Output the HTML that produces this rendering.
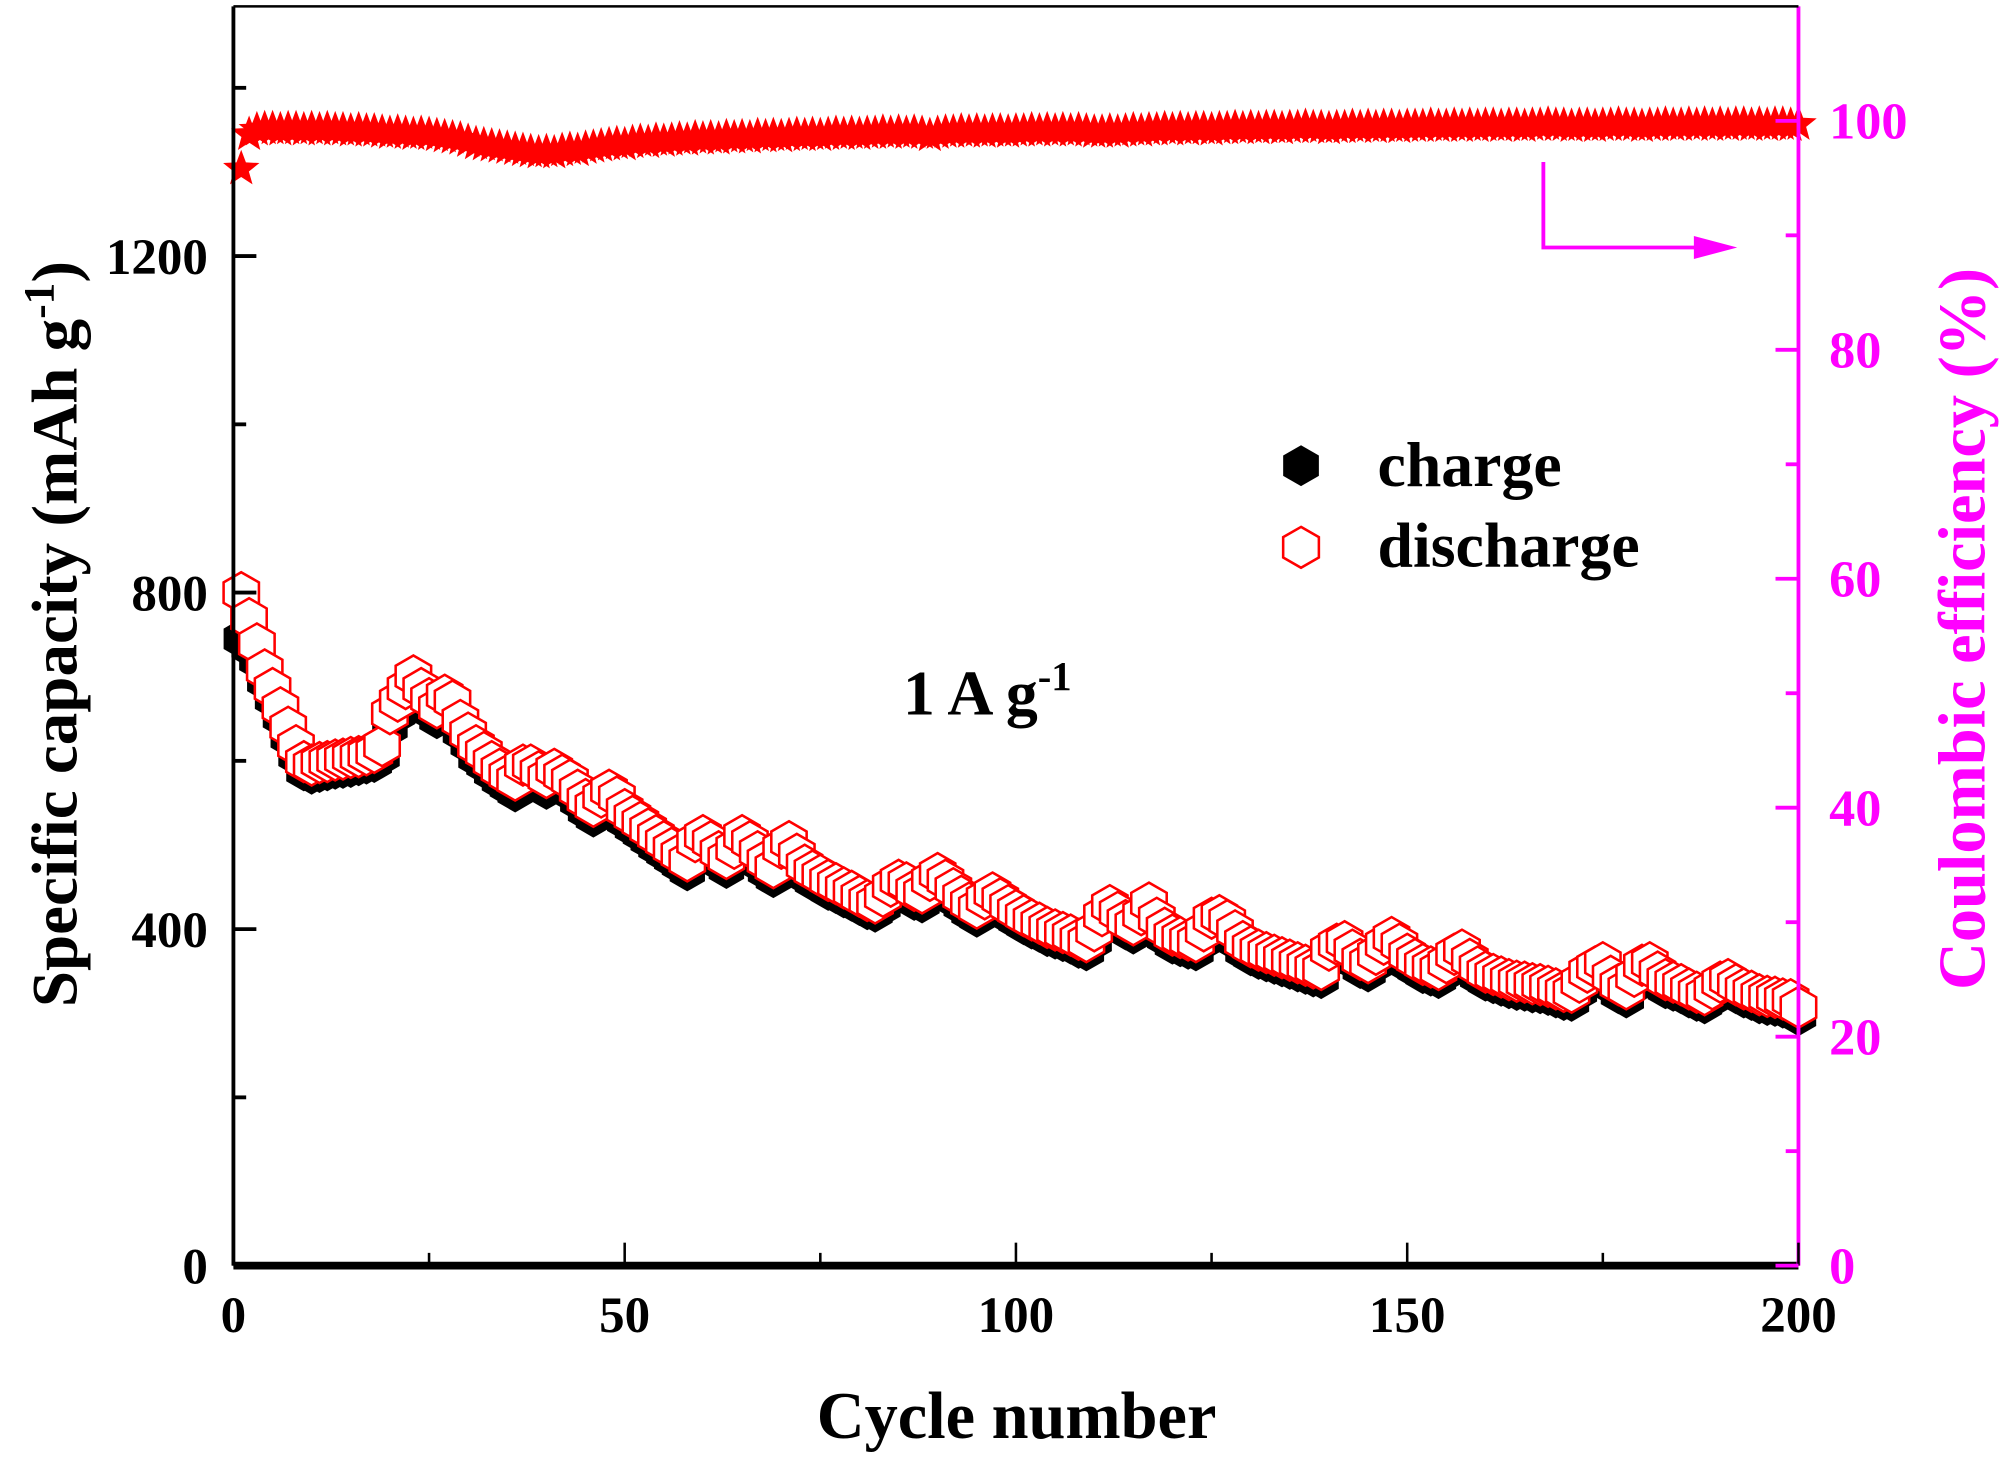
<!DOCTYPE html>
<html><head><meta charset="utf-8"><style>
html,body{margin:0;padding:0;background:#fff;}
svg{display:block;}
text{font-family:"Liberation Serif",serif;font-weight:bold;}
</style></head><body>
<svg id="chart" width="2000" height="1457" viewBox="0 0 1568 1142" preserveAspectRatio="none" xmlns="http://www.w3.org/2000/svg">
<g id="marks"></g>
<g id="axes"></g>
<g>
  <polygon points="1020,349 1034,357 1034,373 1020,381 1006,373 1006,357" fill="#000"/>
  <text x="1080" y="381" font-size="50">charge</text>
  <polygon points="1020,413 1034,421 1034,437 1020,445 1006,437 1006,421" fill="#fff" stroke="#f00" stroke-width="2"/>
  <text x="1080" y="444" font-size="50">discharge</text>
</g>
<text x="708" y="560" font-size="50">1 A g<tspan dy="-19" font-size="32">-1</tspan></text>
<g>
  <polyline points="1210,127 1210,194 1335,194" fill="none" stroke="#f0f" stroke-width="3"/>
  <polygon points="1362,194 1328,185 1328,203" fill="#f0f"/>
</g>
<text x="797" y="1127" font-size="52" text-anchor="middle">Cycle number</text>
<text transform="translate(60,497) rotate(-90)" font-size="51" text-anchor="middle">Specific capacity (mAh g<tspan dy="-18" font-size="34">-1</tspan><tspan dy="18">)</tspan></text>
<text transform="translate(1556,493) rotate(-90)" font-size="52" text-anchor="middle" fill="#f0f">Coulombic efficiency (%)</text>
</svg>
<script>
const cycles = Array.from({length:200},(_,i)=>i+1);
const discharge = [800,769,739,708,686,663,640,618,599,595,598,599,601,602,604,605,607,610,618,656,
671,686,701,686,674,663,678,671,648,633,618,610,599,590,583,577,595,595,587,580,
590,583,577,565,554,546,557,565,557,542,534,527,519,511,504,496,489,481,504,511,
504,492,484,496,511,504,492,481,473,496,504,489,476,469,464,458,454,449,445,439,
434,431,439,451,458,455,446,443,458,466,458,448,439,431,425,436,443,436,428,422,
416,411,407,402,399,396,393,388,385,398,416,428,420,410,405,417,431,413,401,393,
390,387,385,398,413,416,410,398,385,379,375,372,369,366,363,360,357,354,352,375,
382,385,375,364,360,370,382,390,382,370,364,358,355,352,360,370,375,364,355,349,
346,343,340,338,337,335,334,332,329,326,325,337,349,355,360,344,334,329,344,357,
360,349,340,337,334,329,325,322,329,337,340,334,329,326,322,320,319,317,316,307];
const charge = [745,735,720,695,674,652,628,606,588,584,586,588,590,591,592,594,596,598,606,640,
656,670,684,672,660,650,662,656,634,620,604,596,586,577,570,563,580,580,573,566,
576,570,563,552,541,533,543,551,543,529,521,514,506,498,491,484,477,469,490,497,
490,480,472,483,497,490,479,469,461,483,490,476,464,457,452,446,442,437,433,428,
423,420,427,439,446,443,434,431,446,453,446,436,428,420,414,424,431,424,417,411,
405,400,396,391,388,385,382,377,374,386,404,416,408,399,394,405,419,402,390,382,
379,376,374,386,401,404,398,386,374,368,364,361,358,355,352,349,346,343,341,363,
370,373,363,353,349,359,370,378,370,359,353,347,344,341,349,359,363,353,344,338,
335,332,329,327,326,324,323,321,318,315,314,326,338,344,348,333,323,318,333,346,
348,338,329,326,323,318,314,311,318,326,329,323,318,315,311,309,308,306,305,297];
const efficiency = [95.8,98.8,99.2,99.3,99.3,99.2,99.3,99.3,99.2,99.3,99.2,99.3,99.2,99.2,99.1,99.2,99.1,99.1,99.0,98.9,
99.0,98.9,98.8,98.9,98.8,98.7,98.6,98.5,98.4,98.2,98.0,97.9,97.8,97.7,97.6,97.5,97.4,97.3,97.2,97.3,
97.2,97.4,97.5,97.4,97.6,97.7,97.8,97.9,98.0,97.9,98.1,98.2,98.1,98.3,98.2,98.3,98.4,98.3,98.5,98.4,
98.5,98.4,98.6,98.5,98.6,98.5,98.7,98.6,98.7,98.6,98.7,98.8,98.7,98.8,98.7,98.8,98.9,98.8,98.9,98.8,
98.9,98.9,99.0,98.9,99.0,98.9,99.0,98.9,98.7,98.9,99.0,99.0,99.1,99.0,99.1,99.0,99.1,99.1,99.0,99.1,
99.1,99.2,99.1,99.2,99.1,99.2,99.1,99.2,99.1,99.0,99.0,99.1,99.0,99.1,99.2,99.1,99.2,99.2,99.3,99.2,
99.3,99.2,99.3,99.3,99.2,99.3,99.3,99.4,99.3,99.4,99.3,99.4,99.4,99.3,99.4,99.4,99.5,99.4,99.4,99.3,
99.4,99.4,99.5,99.4,99.5,99.4,99.5,99.5,99.4,99.5,99.5,99.5,99.6,99.5,99.5,99.6,99.5,99.6,99.5,99.6,
99.6,99.5,99.6,99.6,99.5,99.6,99.6,99.7,99.6,99.6,99.5,99.6,99.6,99.5,99.6,99.6,99.7,99.6,99.6,99.5,
99.6,99.6,99.7,99.6,99.6,99.7,99.6,99.7,99.6,99.7,99.6,99.7,99.7,99.6,99.7,99.6,99.7,99.7,99.6,99.7];
const xTicks = [0,50,100,150,200];
const yTicks = [0,400,800,1200];
const y2Ticks = [0,20,40,60,80,100];

const L=183,R=1410,B=992,T=5;
const x = v => L + (v/200)*(R-L);
const y = v => B - v*0.6594;
const y2 = v => B - v*(B-T)/110;
const NS="http://www.w3.org/2000/svg";
const marks=document.getElementById('marks'), axes=document.getElementById('axes');
function mk(tag,attrs,parent){const e=document.createElementNS(NS,tag);for(const k in attrs)e.setAttribute(k,attrs[k]);parent.appendChild(e);return e;}
function hex(cx,cy,r){let p=[];for(let k=0;k<6;k++){const a=Math.PI/180*(60*k-90);p.push((cx+r*Math.cos(a)).toFixed(1)+','+(cy+r*Math.sin(a)).toFixed(1));}return p.join(' ');}
function star(cx,cy,r){let p=[];for(let k=0;k<10;k++){const rr=k%2?r*0.42:r;const a=Math.PI/180*(36*k-90);p.push((cx+rr*Math.cos(a)).toFixed(1)+','+(cy+rr*Math.sin(a)).toFixed(1));}return p.join(' ');}

cycles.forEach((c,i)=>{
  const el=mk('polygon',{points:hex(x(c),y(charge[i]),16),fill:'#000'},marks);
  
  
});
cycles.forEach((c,i)=>{
  const el=mk('polygon',{points:hex(x(c),y(discharge[i]),16),fill:'#fff',stroke:'#f00','stroke-width':2},marks);
  
  
});
cycles.forEach((c,i)=>{
  const el=mk('polygon',{points:star(x(c),y2(efficiency[i]),15),fill:'#f00'},marks);
  
  
});

let a;
a=mk('line',{x1:L,y1:T,x2:L,y2:B,stroke:'#000','stroke-width':3},axes);

a=mk('line',{x1:L,y1:B,x2:R,y2:B,stroke:'#000','stroke-width':6},axes);

a=mk('line',{x1:R,y1:T,x2:R,y2:B,stroke:'#f0f','stroke-width':3},axes);

a=mk('line',{x1:L,y1:T,x2:R,y2:T,stroke:'#000','stroke-width':2},axes);


for(let v=0;v<=200;v+=25){
  const major=v%50===0;
  mk('line',{x1:x(v),y1:B,x2:x(v),y2:B-(major?18:10),stroke:'#000','stroke-width':2},axes);
}
xTicks.forEach(v=>{
  const t=mk('text',{x:x(v),y:B+52,'font-size':40,'text-anchor':'middle'},axes);t.textContent=v;
  
});
for(let v=0;v<=1400;v+=200){
  const major=v%400===0;
  mk('line',{x1:L,y1:y(v),x2:L+(major?18:10),y2:y(v),stroke:'#000','stroke-width':3},axes);
}
yTicks.forEach(v=>{
  const t=mk('text',{x:L-20,y:y(v)+14,'font-size':40,'text-anchor':'end'},axes);t.textContent=v;
  
});
for(let v=0;v<=100;v+=10){
  const major=v%20===0;
  mk('line',{x1:R,y1:y2(v),x2:R-(major?18:10),y2:y2(v),stroke:'#f0f','stroke-width':3},axes);
}
y2Ticks.forEach(v=>{
  const t=mk('text',{x:R+24,y:y2(v)+14,'font-size':41,fill:'#f0f'},axes);t.textContent=v;
  
});
</script>
</body></html>
